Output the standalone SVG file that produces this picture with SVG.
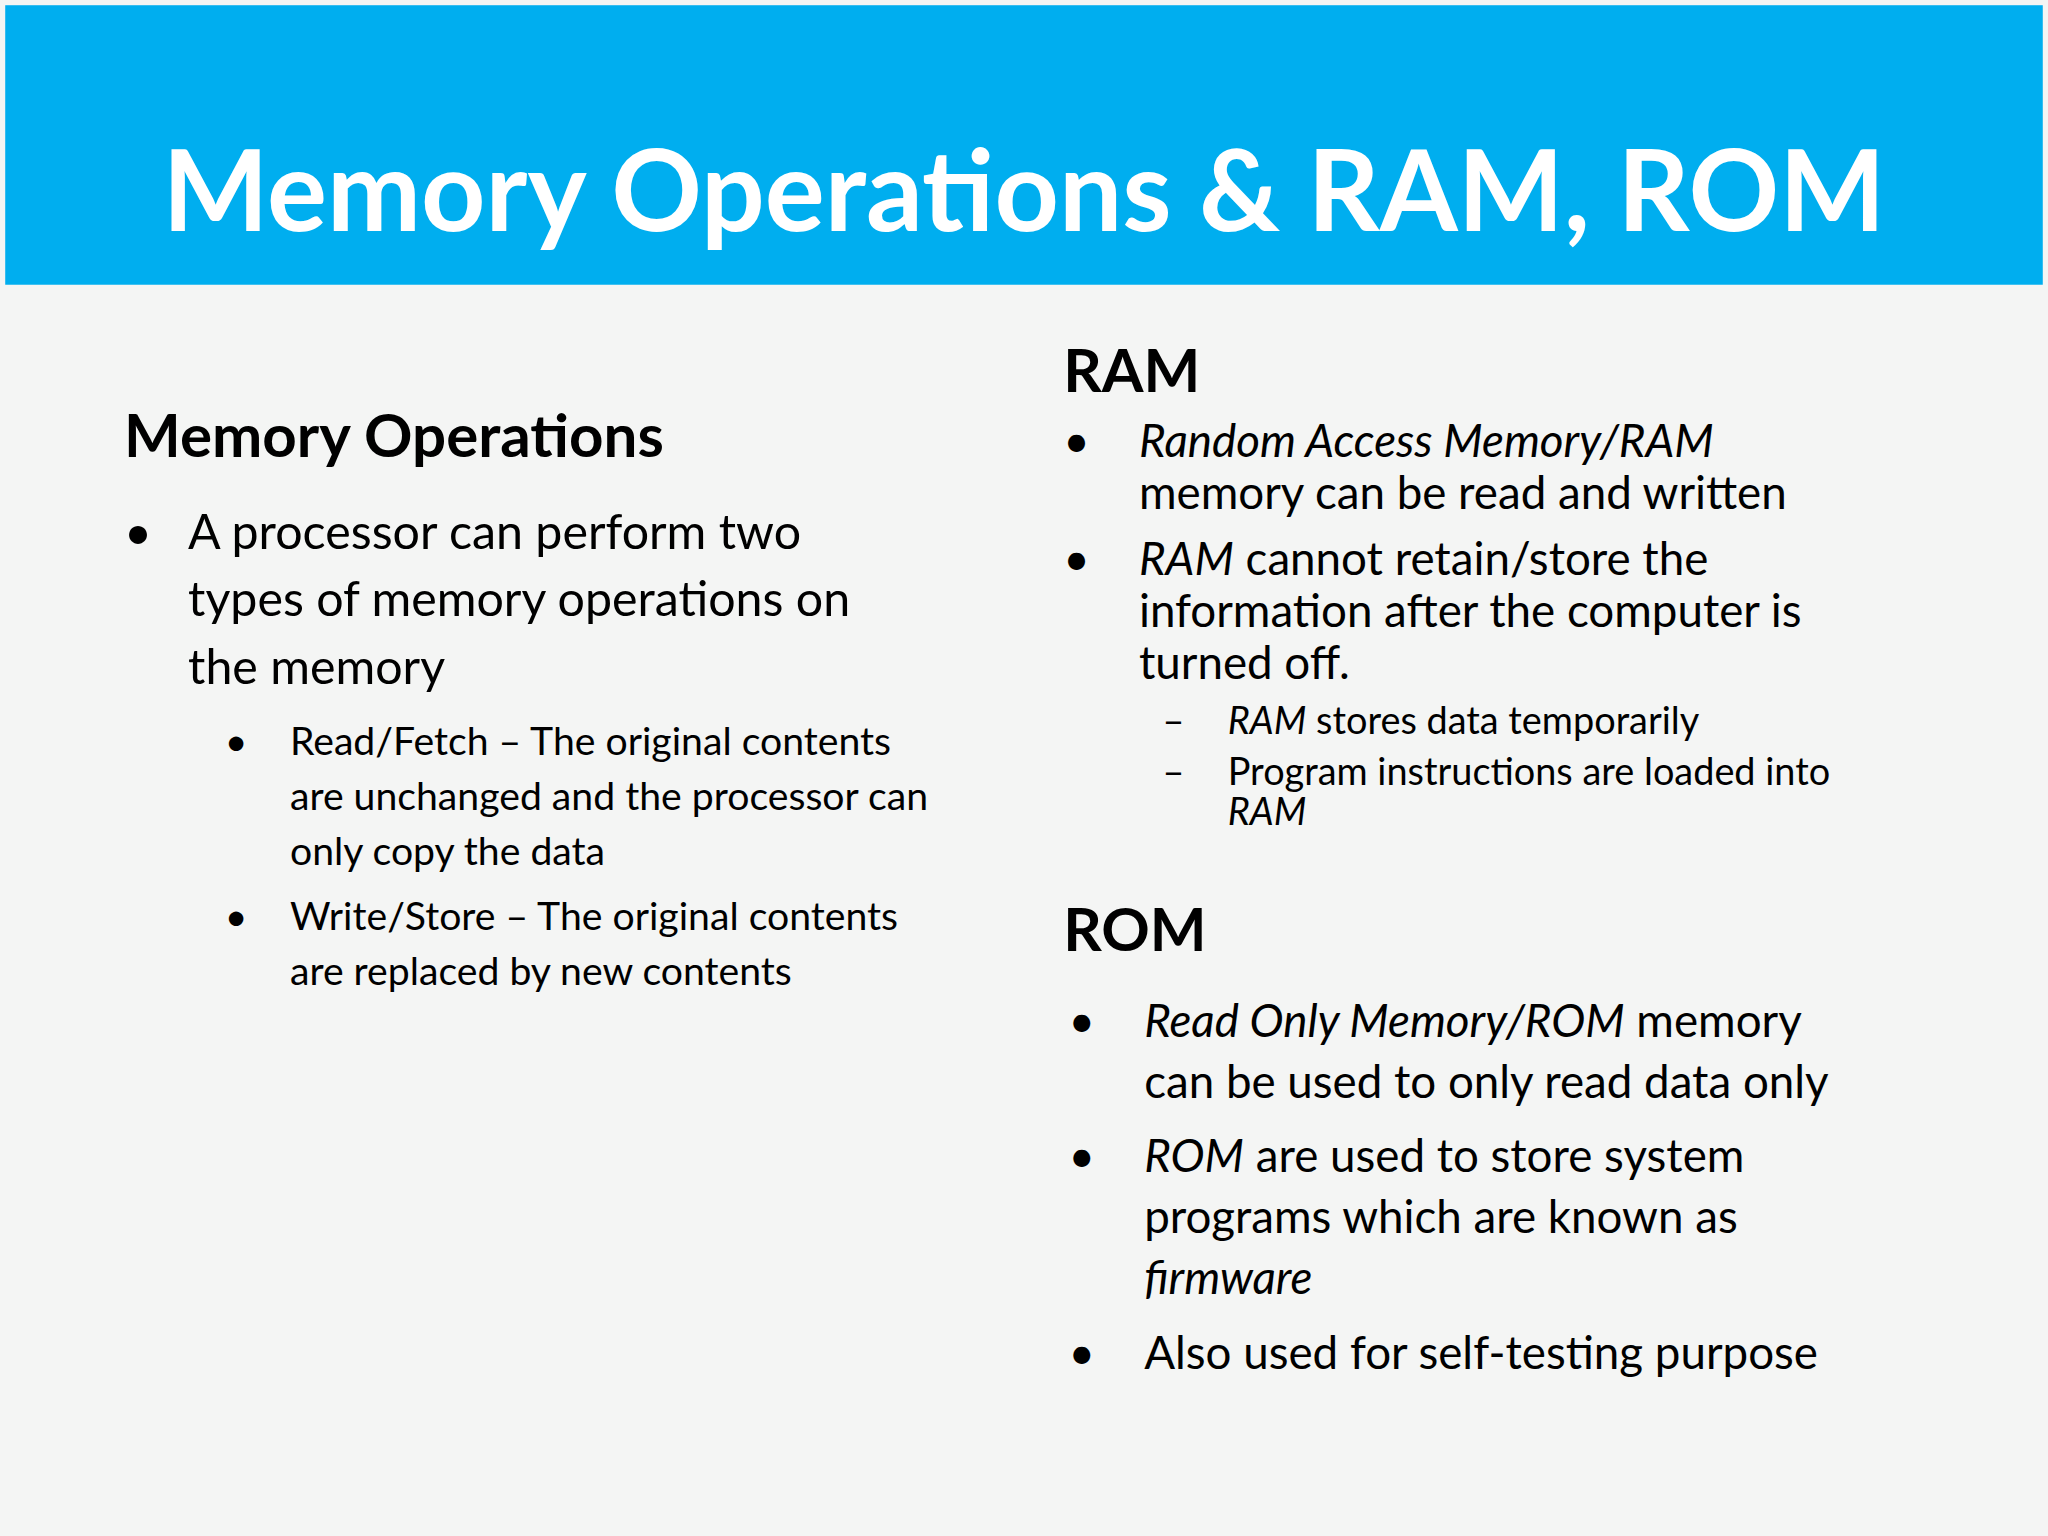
<svg xmlns="http://www.w3.org/2000/svg" width="2048" height="1536" viewBox="0 0 2048 1536">
<style>
text{font-family:Lato,"Open Sans","Liberation Sans",sans-serif;fill:#000}
.h{font-weight:bold;font-size:46px}
.b{font-size:37px}
.s{font-size:30px}
.r{font-size:35px}
.d{font-size:29px}
i{font-style:italic}
</style>
<rect width="2048" height="1536" fill="#fff"/>
<g transform="scale(1.30612)">
<rect x="0" y="0" width="1568" height="1176" fill="#F4F5F4"/>
<rect x="4" y="4" width="1560" height="214" fill="#00AEEF"/>
<text x="784" y="177" text-anchor="middle" style="font-size:86px;font-weight:bold;fill:#fff">Memory Operations &amp; RAM, ROM</text>
<g id="left">
<text class="h" x="95" y="350">Memory Operations</text>
<text class="b" x="95" y="420">•</text>
<text class="b" x="144" y="420">A processor can perform two</text>
<text class="b" x="144" y="472">types of memory operations on</text>
<text class="b" x="144" y="524">the memory</text>
<text class="s" x="172" y="578">•</text>
<text class="s" x="222" y="578">Read/Fetch – The original contents</text>
<text class="s" x="222" y="620">are unchanged and the processor can</text>
<text class="s" x="222" y="662">only copy the data</text>
<text class="s" x="172" y="712">•</text>
<text class="s" x="222" y="712">Write/Store – The original contents</text>
<text class="s" x="222" y="754">are replaced by new contents</text>
</g>
<g id="ram">
<text class="h" x="814" y="300">RAM</text>
<text class="r" x="814" y="350">•</text>
<text class="r" x="872" y="350" font-style="italic">Random Access Memory/RAM</text>
<text class="r" x="872" y="390">memory can be read and written</text>
<text class="r" x="814" y="440">•</text>
<text class="r" x="872" y="440"><tspan font-style="italic">RAM</tspan> cannot retain/store the</text>
<text class="r" x="872" y="480">information after the computer is</text>
<text class="r" x="872" y="520">turned off.</text>
<text class="d" x="890" y="562">–</text>
<text class="d" x="940" y="562"><tspan font-style="italic">RAM</tspan> stores data temporarily</text>
<text class="d" x="890" y="601">–</text>
<text class="d" x="940" y="601">Program instructions are loaded into</text>
<text class="d" x="940" y="632" font-style="italic">RAM</text>
</g>
<g id="rom">
<text class="h" x="814" y="728">ROM</text>
<text class="r" x="818" y="794">•</text>
<text class="r" x="876" y="794"><tspan font-style="italic">Read Only Memory/ROM</tspan> memory</text>
<text class="r" x="876" y="841">can be used to only read data only</text>
<text class="r" x="818" y="897">•</text>
<text class="r" x="876" y="897"><tspan font-style="italic">ROM</tspan> are used to store system</text>
<text class="r" x="876" y="944">programs which are known as</text>
<text class="r" x="876" y="991" font-style="italic">firmware</text>
<text class="r" x="818" y="1048">•</text>
<text class="r" x="876" y="1048">Also used for self-testing purpose</text>
</g>
</g>
</svg>
